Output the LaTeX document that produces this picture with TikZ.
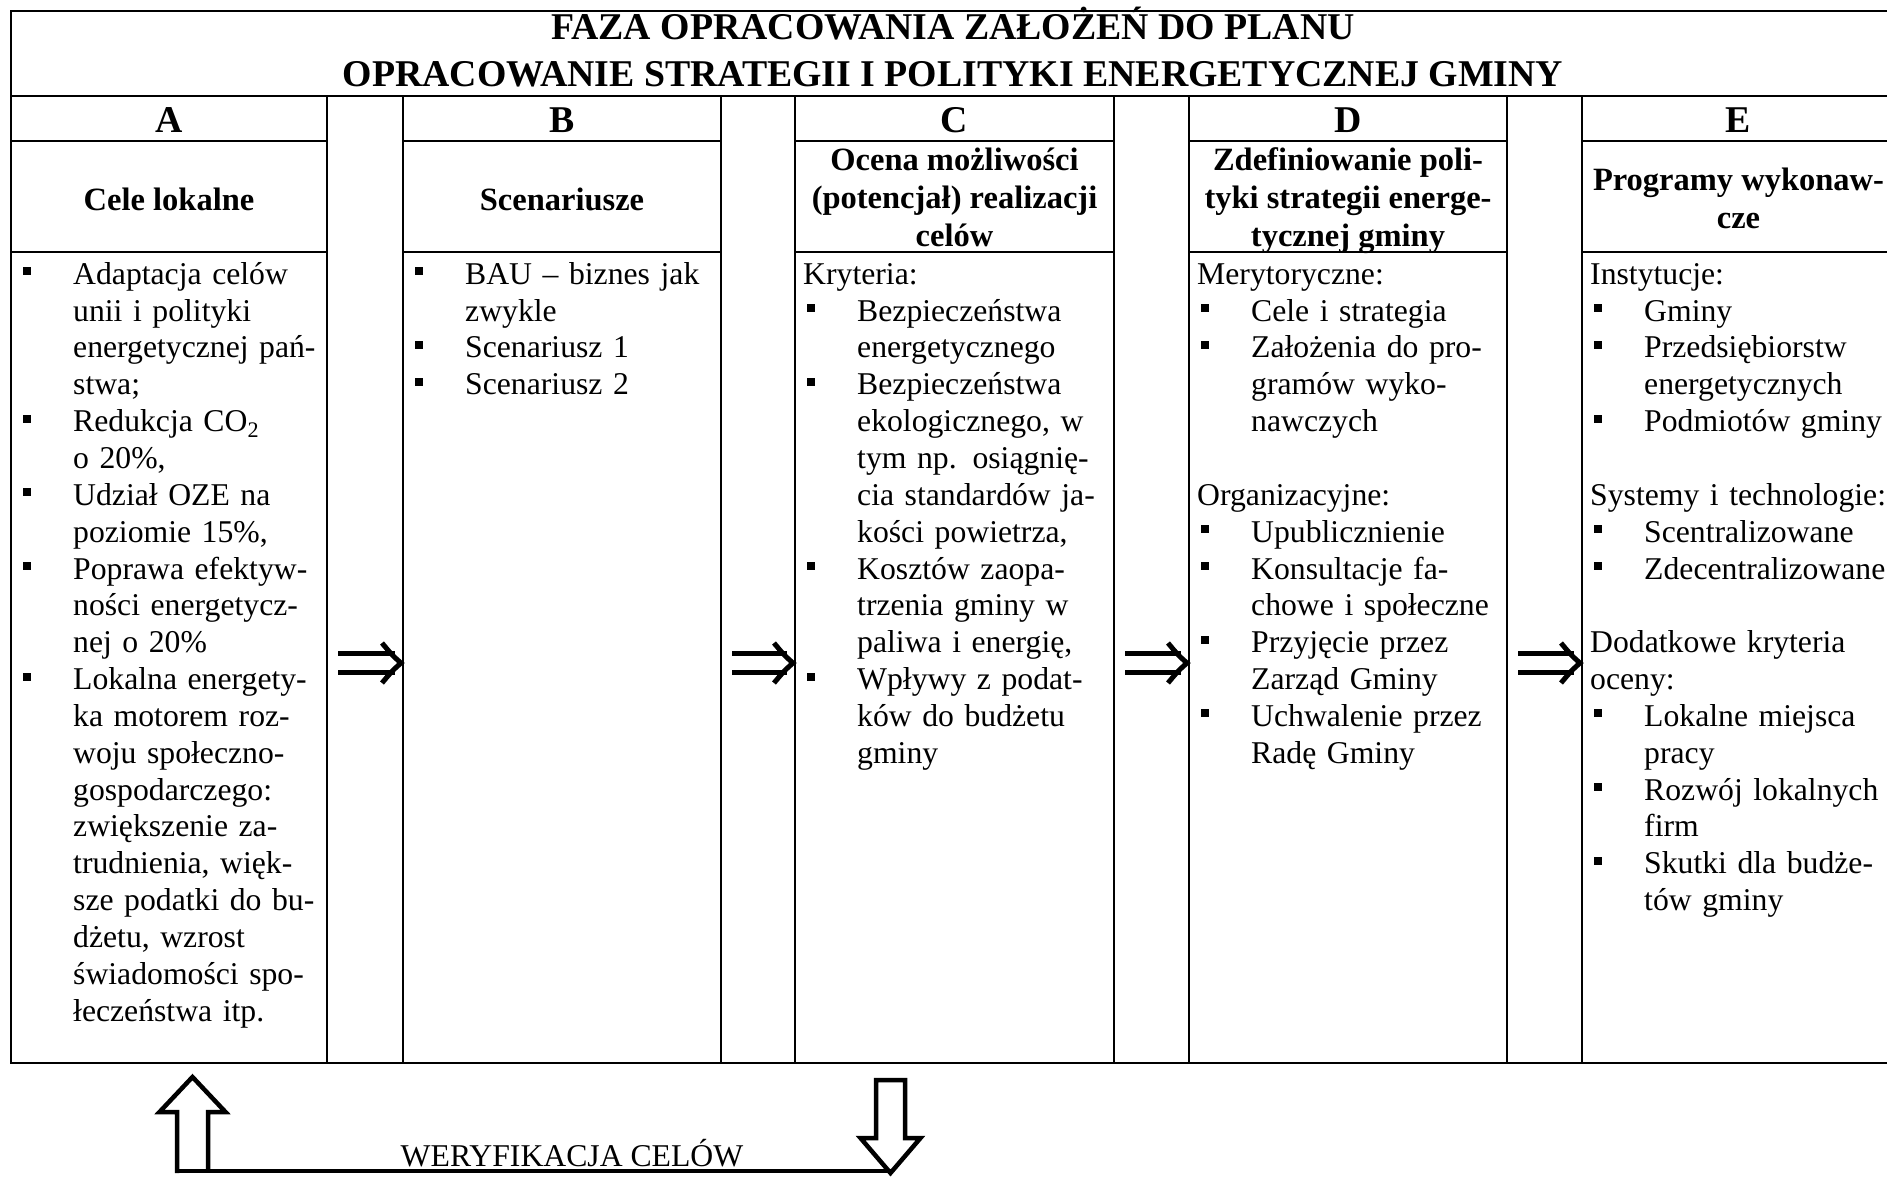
\documentclass[tikz,border=0pt]{standalone}
\usepackage{fontspec}
\setmainfont{Liberation Serif}
\usetikzlibrary{calc}

% font sizes (1pt = 1 unit of the drawing grid)
\newcommand\bodyfont{\fontsize{31.7pt}{36.85pt}\selectfont\lineskiplimit=-100pt\relax}
\newcommand\headfont{\fontsize{32.5pt}{38pt}\selectfont\bfseries\lineskiplimit=-100pt\relax}
\newcommand\titlefont{\fontsize{37.8pt}{47.5pt}\selectfont\bfseries\lineskiplimit=-100pt\relax}
\newcommand\letterfont{\fontsize{37.8pt}{44pt}\selectfont\bfseries}

% list lines: bullet item, continuation line, plain label line
\newcommand\bl{\strut\hspace*{12pt}\rule[9pt]{8pt}{8pt}\hspace*{42pt}}
\newcommand\ct{\strut\hspace*{62pt}}
\newcommand\hd{\strut\hspace*{8pt}}

% one table column: letter cell, heading cell, body cell
\newcommand\tablecolumn[3]{%
  \node[cell, minimum width=#3pt, minimum height=45pt]  (#1L) at (#2,96)  {};
  \node[cell, minimum width=#3pt, minimum height=111pt] (#1H) at (#2,141) {};
  \node[cell, minimum width=#3pt, minimum height=811pt] (#1B) at (#2,252) {};}

% double "implies" arrow from one column body to the next
\newcommand\implarrow[2]{%
  \draw[implies line] ($(#1.east |- arrowrow)+(11,-9.5)$) -- ($(#2.west |- arrowrow)+(-8,-9.5)$);
  \draw[implies line] ($(#1.east |- arrowrow)+(11,9.5)$)  -- ($(#2.west |- arrowrow)+(-8,9.5)$);
  \draw[implies line] ($(#2.west |- arrowrow)+(-21,-20)$)
     .. controls ($(#2.west |- arrowrow)+(-11,-8)$) .. ($(#2.west |- arrowrow)+(-2,0)$)
     .. controls ($(#2.west |- arrowrow)+(-11,8)$) .. ($(#2.west |- arrowrow)+(-21,20)$);}

\begin{document}
\begin{tikzpicture}[x=1pt, y=-1pt,
  cell/.style={draw, line width=2.5pt, rectangle, inner sep=0pt, outer sep=0pt, anchor=north west},
  bodytext/.style={anchor=north west, inner sep=0pt, text width=420pt, align=left, font=\bodyfont},
  headtext/.style={inner sep=0pt, align=center, font=\headfont},
  lettertext/.style={inner sep=0pt, font=\letterfont},
  implies line/.style={line width=5pt},
  loopline/.style={line width=4.5pt, line join=miter}]

\path[use as bounding box, fill=white] (0,0) rectangle (1887,1178);

% title row
\node[cell, minimum width=1884pt, minimum height=85pt] (title) at (11,11) {};
\node[inner sep=0pt, align=center, font=\titlefont] (titletext) at (title.center)
  {\strut FAZA OPRACOWANIA ZAŁOŻEŃ DO PLANU\\\strut OPRACOWANIE STRATEGII I POLITYKI ENERGETYCZNEJ GMINY};

% arrow gaps between the columns
\node[cell, minimum width=76pt, minimum height=967pt] (gap1) at (327,96)  {};
\node[cell, minimum width=74pt, minimum height=967pt] (gap2) at (721,96)  {};
\node[cell, minimum width=75pt, minimum height=967pt] (gap3) at (1114,96) {};
\node[cell, minimum width=75pt, minimum height=967pt] (gap4) at (1507,96) {};

% columns A..E
\tablecolumn{A}{11}{316}
\tablecolumn{B}{403}{318}
\tablecolumn{C}{795}{319}
\tablecolumn{D}{1189}{318}
\tablecolumn{E}{1582}{313}

% column letters
\node[lettertext] (Aletter) at ($(AL.center)+(0,2)$) {A};
\node[lettertext] (Bletter) at ($(BL.center)+(0,2)$) {B};
\node[lettertext] (Cletter) at ($(CL.center)+(0,2)$) {C};
\node[lettertext] (Dletter) at ($(DL.center)+(0,2)$) {D};
\node[lettertext] (Eletter) at ($(EL.center)+(0,2)$) {E};

% column headings
\node[headtext] (Ahead) at ($(AH.center)+(0,3)$) {Cele lokalne};
\node[headtext] (Bhead) at ($(BH.center)+(0,3)$) {Scenariusze};
\node[headtext] (Chead) at ($(CH.center)+(0,4.2)$)
  {\strut Ocena możliwości\\\strut (potencjał) realizacji\\\strut celów};
\node[headtext] (Dhead) at ($(DH.center)+(0,4.2)$)
  {\strut Zdefiniowanie poli-\\\strut tyki strategii energe-\\\strut tycznej gminy};
\node[headtext] (Ehead) at ($(EH.center)+(0,5.4)$)
  {\strut Programy wykonaw-\\\strut cze};

% column bodies
\node[bodytext] (Atext) at ($(AB.north west)+(0,6.2)$) {%
\bl Adaptacja celów\\
\ct unii i polityki\\
\ct energetycznej pań-\\
\ct stwa;\\
\bl Redukcja CO\textsubscript{2}\\
\ct o 20\%,\\
\bl Udział OZE na\\
\ct poziomie 15\%,\\
\bl Poprawa efektyw-\\
\ct ności energetycz-\\
\ct nej o 20\%\\
\bl Lokalna energety-\\
\ct ka motorem roz-\\
\ct woju społeczno-\\
\ct gospodarczego:\\
\ct zwiększenie za-\\
\ct trudnienia, więk-\\
\ct sze podatki do bu-\\
\ct dżetu, wzrost\\
\ct świadomości spo-\\
\ct łeczeństwa itp.};

\node[bodytext] (Btext) at ($(BB.north west)+(0,6.2)$) {%
\bl BAU – biznes jak\\
\ct zwykle\\
\bl Scenariusz 1\\
\bl Scenariusz 2};

\node[bodytext] (Ctext) at ($(CB.north west)+(0,6.2)$) {%
\hd Kryteria:\\
\bl Bezpieczeństwa\\
\ct energetycznego\\
\bl Bezpieczeństwa\\
\ct ekologicznego, w\\
\ct tym np. osiągnię-\\
\ct cia standardów ja-\\
\ct kości powietrza,\\
\bl Kosztów zaopa-\\
\ct trzenia gminy w\\
\ct paliwa i energię,\\
\bl Wpływy z podat-\\
\ct ków do budżetu\\
\ct gminy};

\node[bodytext] (Dtext) at ($(DB.north west)+(0,6.2)$) {%
\hd Merytoryczne:\\
\bl Cele i strategia\\
\bl Założenia do pro-\\
\ct gramów wyko-\\
\ct nawczych\\
\strut\\
\hd Organizacyjne:\\
\bl Upublicznienie\\
\bl Konsultacje fa-\\
\ct chowe i społeczne\\
\bl Przyjęcie przez\\
\ct Zarząd Gminy\\
\bl Uchwalenie przez\\
\ct Radę Gminy};

\node[bodytext] (Etext) at ($(EB.north west)+(0,6.2)$) {%
\hd Instytucje:\\
\bl Gminy\\
\bl Przedsiębiorstw\\
\ct energetycznych\\
\bl Podmiotów gminy\\
\strut\\
\hd Systemy i technologie:\\
\bl Scentralizowane\\
\bl Zdecentralizowane\\
\strut\\
\hd Dodatkowe kryteria\\
\hd oceny:\\
\bl Lokalne miejsca\\
\ct pracy\\
\bl Rozwój lokalnych\\
\ct firm\\
\bl Skutki dla budże-\\
\ct tów gminy};

% arrows between consecutive columns
\coordinate (arrowrow) at (0,663);
\implarrow{AB}{BB}
\implarrow{BB}{CB}
\implarrow{CB}{DB}
\implarrow{DB}{EB}

% feedback loop below the table: down from C, along the bottom, up into A
\coordinate (upTip) at (192.5,1077);
\coordinate (downTip) at (890.5,1173);
\coordinate (baseline) at (0,1171);
\draw[loopline] ($(upTip |- baseline)+(-15.5,2)$) -- ($(upTip)+(-15.5,35)$) -- ($(upTip)+(-33,35)$)
  -- (upTip) -- ($(upTip)+(33,35)$) -- ($(upTip)+(15.5,35)$) -- ($(upTip |- baseline)+(15.5,-1)$);
\draw[loopline] ($(upTip |- baseline)+(-17.5,0)$) -- (downTip |- baseline);
\draw[loopline] ($(downTip)+(-14.5,-93)$) -- ($(downTip)+(14.5,-93)$) -- ($(downTip)+(14.5,-35)$)
  -- ($(downTip)+(30,-35)$) -- (downTip) -- ($(downTip)+(-30,-35)$) -- ($(downTip)+(-14.5,-35)$) -- cycle;
\node[font=\bodyfont, inner sep=0pt, anchor=base] (verify) at (572,1166) {WERYFIKACJA CELÓW};

\end{tikzpicture}
\end{document}
